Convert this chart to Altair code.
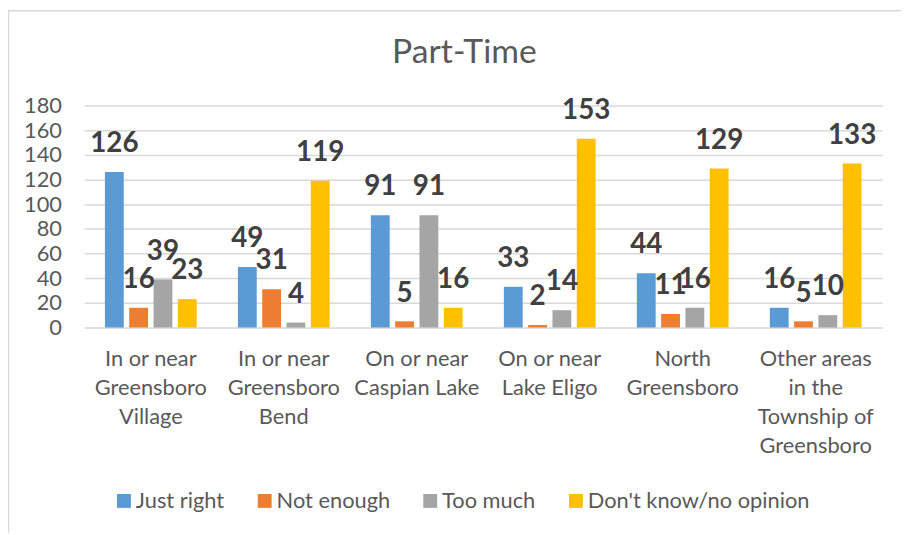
import altair as alt
import pandas as pd

regions = [
    "In or near\nGreensboro\nVillage",
    "In or near\nGreensboro\nBend",
    "On or near\nCaspian Lake",
    "On or near\nLake Eligo",
    "North\nGreensboro",
    "Other areas\nin the\nTownship of\nGreensboro",
]
responses = ["Just right", "Not enough", "Too much", "Don't know/no opinion"]
colors = ["#5B9BD5", "#ED7D31", "#A5A5A5", "#FFC000"]

just_right = [126, 49, 91, 33, 44, 16]
not_enough = [16, 31, 5, 2, 11, 5]
too_much = [39, 4, 91, 14, 16, 10]
dont_know = [23, 119, 16, 153, 129, 133]
y_ticks = [0, 20, 40, 60, 80, 100, 120, 140, 160, 180]

series = [just_right, not_enough, too_much, dont_know]
rows = []
for resp, vals in zip(responses, series):
    for reg, v in zip(regions, vals):
        rows.append({"region": reg, "response": resp, "value": v})
df = pd.DataFrame(rows)

FONT = "Lato"
x_enc = alt.X(
    "region:N",
    sort=regions,
    scale=alt.Scale(paddingInner=0.31, paddingOuter=0.155),
    axis=alt.Axis(
        title=None,
        labelAngle=0,
        labelExpr="split(datum.label, '\\n')",
        labelFont=FONT,
        labelFontSize=22,
        labelColor="#595959",
        labelLineHeight=29.5,
        labelBaseline="top",
        labelPadding=21,
        ticks=False,
        domain=False,
        grid=False,
        labelLimit=0,
    ),
)
xoff_enc = alt.XOffset(
    "response:N",
    sort=responses,
    scale=alt.Scale(domain=responses, paddingInner=0.225, paddingOuter=0),
)
y_enc = alt.Y(
    "value:Q",
    scale=alt.Scale(domain=[0, 180], nice=False),
    axis=alt.Axis(
        title=None,
        values=y_ticks,
        tickCount=10,
        labelFont=FONT,
        labelFontSize=22,
        labelColor="#595959",
        labelPadding=23,
        labelOverlap=False,
        labelFlush=False,
        ticks=False,
        domain=False,
        grid=True,
        gridColor="#D9D9D9",
        gridWidth=1.5,
    ),
)

bars = alt.Chart(df).mark_bar().encode(
    x=x_enc,
    xOffset=xoff_enc,
    y=y_enc,
    color=alt.Color(
        "response:N",
        sort=responses,
        scale=alt.Scale(domain=responses, range=colors),
        legend=alt.Legend(
            title=None,
            orient="none",
            legendX=29,
            legendY=388,
            direction="horizontal",
            columns=4,
            symbolType="square",
            symbolSize=196,
            symbolStrokeWidth=0,
            labelFont=FONT,
            labelFontSize=22,
            labelColor="#595959",
            labelOffset=1,
            labelLimit=0,
            columnPadding=29,
        ),
    ),
)

labels = alt.Chart(df).mark_text(
    dy=-20,
    baseline="alphabetic",
    fontWeight="bold",
    fontSize=28,
    font=FONT,
    color="#404040",
).encode(
    x=x_enc,
    xOffset=xoff_enc,
    y=y_enc,
    text=alt.Text("value:Q"),
)

frame_df = pd.DataFrame({"k": [0]})
left_border = alt.Chart(frame_df).mark_rule(color="#D9D9D9", strokeWidth=1.5).encode(
    x=alt.value(-76.5), y=alt.value(-96), y2=alt.value(431)
)
top_border = alt.Chart(frame_df).mark_rule(color="#D9D9D9", strokeWidth=1.5).encode(
    x=alt.value(-77), x2=alt.value(824), y=alt.value(-95.5)
)

chart = alt.layer(bars, labels, left_border, top_border).properties(
    width=805,
    height=224,
    autosize=alt.AutoSizeParams(type="none"),
    padding={"left": 77, "top": 96, "right": 19, "bottom": 207},
    title=alt.TitleParams(
        text="Part-Time",
        font=FONT,
        fontSize=34,
        fontWeight="normal",
        color="#595959",
        anchor="middle",
        dx=-19,
        dy=88,
        baseline="alphabetic",
        offset=0,
    ),
).configure_view(stroke=None)

chart.save("out.html", embed_options={"renderer": "svg", "actions": False})
